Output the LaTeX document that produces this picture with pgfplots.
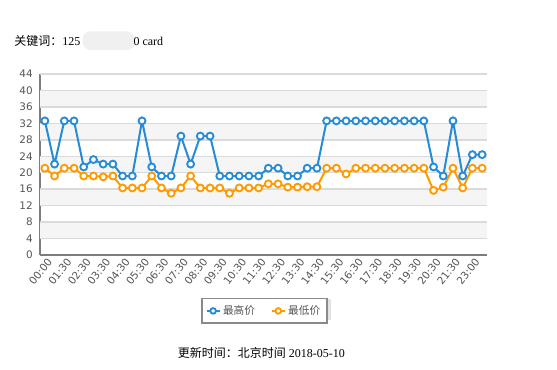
\documentclass[border=0pt]{standalone}
\usepackage{pgfplots}
\pgfplotsset{compat=1.18}
\usepackage{fontspec}
\setmainfont{Liberation Serif}
\newfontfamily\cjk{Noto Sans CJK SC}
\newfontfamily\tickfont{DejaVu Sans}
\definecolor{cblue}{RGB}{38,140,214}
\definecolor{corange}{RGB}{255,155,0}
\definecolor{band}{RGB}{245,245,245}
\definecolor{gridc}{RGB}{218,218,218}
\definecolor{axc}{RGB}{125,125,125}
\definecolor{ticktext}{RGB}{85,85,85}
\begin{document}
\begin{tikzpicture}
\path[use as bounding box] (0,0) rectangle (417.75pt,277.5pt);
\fill[gray!12,rounded corners=6pt] (62pt,240pt) rectangle (101pt,254pt);
\node[anchor=west,inner sep=0pt,font=\fontsize{9}{10}\selectfont] at (10.5pt,247pt) {{\cjk 关键词：}125\hspace{40pt}0 card};
\node[inner sep=0pt,font=\fontsize{9}{10}\selectfont] at (196pt,12.75pt) {{\cjk 更新时间：北京时间} 2018-05-10};
\fill[gray!22] (154.5pt,37.5pt) rectangle (248pt,53.5pt);
\begin{axis}[
  at={(30pt,86.25pt)}, anchor=south west,
  scale only axis, width=335.25pt, height=135.75pt,
  xmin=-0.5, xmax=45.5, ymin=0, ymax=44,
  axis x line=bottom, axis y line=left,
  axis line style={-},
  x axis line style={axc, line width=1.9pt},
  y axis line style={axc, line width=1.3pt},
  ytick={0,4,...,44},
  xtick={0,2,...,44},
  xticklabels={00:00,01:30,02:30,03:30,04:30,05:30,06:30,07:30,08:30,09:30,10:30,11:30,12:30,13:30,14:30,15:30,16:30,17:30,18:30,19:30,20:30,21:30,23:00},
  major tick length=0pt,
  yticklabel style={font={\tickfont\fontsize{7.8}{8}\selectfont}, text=ticktext, xshift=-2pt},
  xticklabel style={font={\tickfont\fontsize{7.8}{8}\selectfont}, text=ticktext, rotate=52, anchor=east, xshift=3pt, yshift=-5pt},
  /pgf/number format/assume math mode=true,
  legend style={at={(0.502,-0.309)}, anchor=center, draw=axc!90, line width=1.1pt, fill=white,
    font={\cjk\fontsize{8}{9}\selectfont}, text=ticktext,
    inner xsep=3pt, inner ysep=3pt,
    /tikz/every even column/.append style={column sep=10pt}},
  legend columns=2,
  legend image code/.code={\draw[mark repeat=2,mark phase=2,line width=1.2pt,mark size=2.1pt] plot coordinates {(0cm,0cm)(0.17cm,0cm)(0.34cm,0cm)};},
]
\addplot[draw=none, fill=band, forget plot] coordinates {(-0.5,4)(45.5,4)(45.5,8)(-0.5,8)} -- cycle;
\addplot[draw=none, fill=band, forget plot] coordinates {(-0.5,12)(45.5,12)(45.5,16)(-0.5,16)} -- cycle;
\addplot[draw=none, fill=band, forget plot] coordinates {(-0.5,20)(45.5,20)(45.5,24)(-0.5,24)} -- cycle;
\addplot[draw=none, fill=band, forget plot] coordinates {(-0.5,28)(45.5,28)(45.5,32)(-0.5,32)} -- cycle;
\addplot[draw=none, fill=band, forget plot] coordinates {(-0.5,36)(45.5,36)(45.5,40)(-0.5,40)} -- cycle;
\pgfplotsinvokeforeach{4,8,...,44}{\addplot[gridc, line width=1.1pt, forget plot] coordinates {(-0.5,#1)(45.5,#1)};}
\addplot[cblue, line width=1.5pt, mark=*, mark size=2.6pt, mark options={fill=white, draw=cblue, line width=1.4pt}] coordinates {
(0,32.6)(1,22.1)(2,32.6)(3,32.6)(4,21.4)(5,23.2)(6,22.1)(7,22.1)(8,19.2)(9,19.2)
(10,32.6)(11,21.4)(12,19.2)(13,19.2)(14,28.9)(15,22.1)(16,28.9)(17,28.9)(18,19.2)(19,19.2)
(20,19.2)(21,19.2)(22,19.2)(23,21.1)(24,21.1)(25,19.2)(26,19.2)(27,21.1)(28,21.1)(29,32.6)
(30,32.6)(31,32.6)(32,32.6)(33,32.6)(34,32.6)(35,32.6)(36,32.6)(37,32.6)(38,32.6)(39,32.6)
(40,21.4)(41,19.2)(42,32.6)(43,19.2)(44,24.4)(45,24.4)};
\addlegendentry{最高价}
\addplot[corange, line width=1.5pt, mark=*, mark size=2.6pt, mark options={fill=white, draw=corange, line width=1.4pt}] coordinates {
(0,21.1)(1,19.2)(2,21.1)(3,21.1)(4,19.2)(5,19.2)(6,19.0)(7,19.2)(8,16.3)(9,16.3)
(10,16.3)(11,19.2)(12,16.3)(13,15.0)(14,16.3)(15,19.2)(16,16.3)(17,16.3)(18,16.3)(19,15.0)
(20,16.3)(21,16.3)(22,16.3)(23,17.3)(24,17.3)(25,16.5)(26,16.5)(27,16.6)(28,16.6)(29,21.1)
(30,21.1)(31,19.7)(32,21.1)(33,21.1)(34,21.1)(35,21.1)(36,21.1)(37,21.1)(38,21.1)(39,21.1)
(40,15.7)(41,16.5)(42,21.1)(43,16.3)(44,21.1)(45,21.1)};
\addlegendentry{最低价}
\end{axis}
\end{tikzpicture}
\end{document}
